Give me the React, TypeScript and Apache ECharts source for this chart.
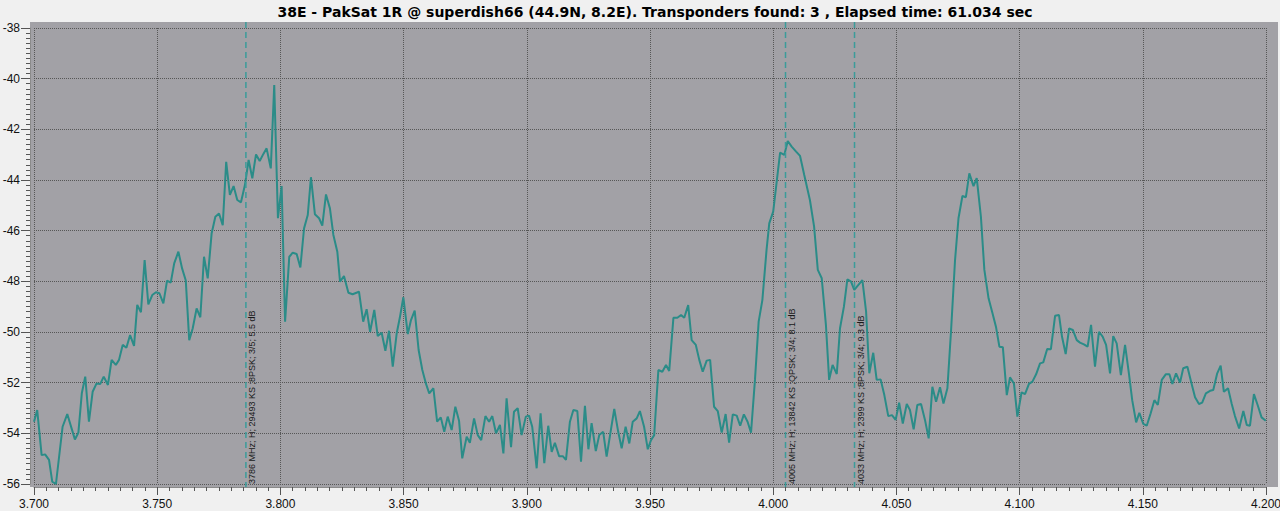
import React, { useEffect, useRef } from "react";
import * as echarts from "echarts";

const TITLE =
  "38E - PakSat 1R @ superdish66 (44.9N, 8.2E). Transponders found: 3 , Elapsed time: 61.034 sec";

// Frequency (GHz) of each sample
const freqGHz = [
  3.7, 3.7013, 3.7031, 3.7045, 3.7061, 3.7074, 3.7089, 3.7116, 3.7135, 3.7166,
  3.718, 3.7194, 3.7208, 3.7223, 3.7238, 3.7254, 3.7269, 3.7283, 3.73, 3.7315,
  3.7332, 3.7345, 3.736, 3.7375, 3.739, 3.7406, 3.7419, 3.7434, 3.7449, 3.7464,
  3.748, 3.7495, 3.7509, 3.7525, 3.754, 3.7555, 3.7569, 3.7586, 3.7601, 3.7616,
  3.763, 3.7644, 3.766, 3.7675, 3.769, 3.7705, 3.7721, 3.7736, 3.7751, 3.7766,
  3.778, 3.7795, 3.781, 3.7825, 3.784, 3.7856, 3.7871, 3.7886, 3.7901, 3.7916,
  3.7931, 3.7944, 3.7961, 3.7975, 3.799, 3.8005, 3.8019, 3.8036, 3.805, 3.8066,
  3.8081, 3.8096, 3.8111, 3.8124, 3.814, 3.8157, 3.817, 3.8185, 3.8201, 3.8215,
  3.8231, 3.8242, 3.8258, 3.8276, 3.8293, 3.8319, 3.8336, 3.835, 3.8364, 3.8381,
  3.8395, 3.8411, 3.8426, 3.8441, 3.8456, 3.8472, 3.8485, 3.8499, 3.8517, 3.853,
  3.8545, 3.8561, 3.8576, 3.8591, 3.8604, 3.8621, 3.8636, 3.8651, 3.8665, 3.8679,
  3.8695, 3.871, 3.8725, 3.8738, 3.8756, 3.8769, 3.8786, 3.8801, 3.8815, 3.8832,
  3.8847, 3.886, 3.8875, 3.8891, 3.8905, 3.8918, 3.8936, 3.8948, 3.8963, 3.8979,
  3.8996, 3.9009, 3.9022, 3.904, 3.9056, 3.9071, 3.9087, 3.9101, 3.9114, 3.9131,
  3.9146, 3.9159, 3.9175, 3.9189, 3.9205, 3.922, 3.9236, 3.925, 3.9263, 3.928,
  3.9294, 3.931, 3.9324, 3.934, 3.9355, 3.9371, 3.9385, 3.9401, 3.9416, 3.943,
  3.9446, 3.9459, 3.9476, 3.9491, 3.9504, 3.9517, 3.9534, 3.955, 3.9565, 3.9578,
  3.9595, 3.9611, 3.9626, 3.9639, 3.9655, 3.9669, 3.9686, 3.97, 3.9714, 3.973,
  3.9744, 3.976, 3.9775, 3.9791, 3.9807, 3.9821, 3.9836, 3.9852, 3.9866, 3.9881,
  3.9896, 3.991, 3.9926, 3.9941, 3.9956, 3.9973, 3.9984, 4.0, 4.0028, 4.0045,
  4.0059, 4.0075, 4.0093, 4.0109, 4.0126, 4.0149, 4.0166, 4.0181, 4.0197, 4.0214,
  4.0227, 4.0241, 4.0258, 4.0271, 4.0287, 4.0301, 4.0316, 4.0329, 4.0345, 4.0362,
  4.0377, 4.039, 4.0406, 4.042, 4.0436, 4.0451, 4.0467, 4.0482, 4.0497, 4.0511,
  4.0526, 4.0542, 4.0555, 4.057, 4.0585, 4.06, 4.0616, 4.0631, 4.0646, 4.0661,
  4.0677, 4.0691, 4.0707, 4.0722, 4.0738, 4.0752, 4.0768, 4.0782, 4.0796, 4.0813,
  4.0826, 4.0843, 4.0857, 4.0874, 4.089, 4.0904, 4.0918, 4.0932, 4.0948, 4.0961,
  4.0977, 4.0991, 4.1008, 4.1022, 4.1038, 4.1052, 4.1067, 4.1083, 4.1096, 4.1112,
  4.1127, 4.1144, 4.116, 4.1172, 4.1187, 4.1201, 4.1216, 4.1232, 4.1245, 4.1261,
  4.1276, 4.129, 4.1306, 4.1322, 4.1337, 4.1351, 4.1367, 4.138, 4.1394, 4.1411,
  4.1428, 4.1444, 4.1457, 4.1473, 4.1486, 4.1502, 4.1516, 4.1532, 4.1547, 4.1561,
  4.1577, 4.1593, 4.1608, 4.162, 4.1635, 4.1651, 4.1664, 4.1681, 4.1696, 4.1712,
  4.1728, 4.1741, 4.1756, 4.1773, 4.1786, 4.1802, 4.1816, 4.1829, 4.1846, 4.1861,
  4.1874, 4.1891, 4.1908, 4.1922, 4.1935, 4.1951, 4.1966, 4.1982, 4.1999,
];

// Measured level (dB) of each sample
const levelDb = [
  -53.54, -53.08, -54.86, -54.83, -55.05, -55.91, -56.0, -53.74, -53.24, -54.24,
  -53.98, -52.42, -51.76, -53.54, -52.36, -52.03, -52.05, -51.76, -52.09, -51.1,
  -51.3, -51.1, -50.51, -50.62, -50.12, -50.55, -48.93, -49.22, -47.16, -48.91,
  -48.54, -48.43, -48.47, -48.87, -47.97, -48.05, -47.29, -46.83, -47.49, -47.97,
  -50.32, -49.86, -49.07, -49.42, -47.03, -47.88, -46.1, -45.45, -45.32, -45.78,
  -43.28, -44.59, -44.24, -44.79, -44.88, -44.2, -43.21, -43.93, -42.99, -43.25,
  -42.97, -42.75, -43.54, -40.25, -45.51, -44.24, -49.59, -47.03, -46.87, -46.92,
  -47.45, -45.91, -45.38, -43.89, -45.35, -45.51, -45.8, -44.57, -45.12, -46.17,
  -46.83, -48.01, -47.79, -48.45, -48.51, -48.41, -49.59, -49.1, -49.99, -49.13,
  -50.16, -50.03, -50.74, -49.95, -51.37, -50.05, -49.42, -48.63, -50.08, -49.53,
  -49.16, -50.71, -51.5, -52.05, -52.42, -52.22, -53.54, -53.37, -53.94, -53.34,
  -53.87, -52.95, -53.5, -54.99, -54.13, -54.37, -53.41, -54.07, -54.27, -53.32,
  -53.54, -53.32, -54.0, -53.67, -54.79, -52.62, -54.55, -53.15, -53.01, -54.07,
  -53.34, -53.3, -53.74, -55.38, -53.21, -55.18, -53.7, -54.73, -54.37, -54.9,
  -54.9, -55.05, -53.54, -53.08, -53.12, -55.12, -52.91, -54.63, -53.6, -54.7,
  -54.07, -53.94, -54.92, -53.94, -53.04, -53.94, -54.59, -53.74, -54.4, -53.54,
  -53.41, -53.12, -53.74, -54.63, -54.27, -54.07, -51.5, -51.57, -51.3, -51.54,
  -49.44, -49.44, -49.33, -49.44, -48.94, -50.32, -50.51, -51.1, -51.57, -51.13,
  -51.1, -52.95, -53.12, -53.97, -53.24, -54.37, -53.25, -53.3, -53.7, -53.25,
  -53.54, -53.97, -51.89, -49.59, -48.74, -46.76, -45.71, -45.25, -42.92, -43.01,
  -42.46, -42.68, -42.88, -43.05, -43.8, -44.79, -45.84, -47.55, -47.88, -49.73,
  -51.89, -51.3, -51.66, -49.86, -49.0, -47.92, -48.01, -48.34, -48.15, -47.95,
  -49.2, -51.63, -50.82, -51.89, -51.87, -52.49, -53.32, -53.28, -53.47, -52.79,
  -53.61, -52.84, -53.08, -53.84, -52.88, -52.84, -53.47, -54.2, -52.16, -52.75,
  -52.18, -52.82, -52.22, -49.92, -47.16, -45.51, -44.63, -44.68, -43.74, -44.24,
  -43.93, -45.45, -47.55, -48.67, -49.26, -49.79, -50.58, -50.6, -52.49, -51.79,
  -52.03, -53.34, -52.38, -52.45, -52.05, -51.96, -51.67, -51.24, -51.2, -50.67,
  -50.68, -49.36, -49.33, -50.18, -50.87, -49.86, -49.92, -50.32, -50.42, -50.49,
  -50.58, -49.72, -51.37, -49.99, -50.18, -50.51, -51.63, -50.16, -50.45, -51.7,
  -50.51, -51.66, -52.69, -53.57, -53.19, -53.63, -53.7, -53.21, -52.69, -52.88,
  -51.89, -51.67, -51.67, -52.05, -51.63, -52.0, -51.43, -51.37, -51.96, -52.58,
  -52.84, -52.79, -52.42, -52.32, -52.29, -51.63, -51.33, -52.36, -52.22, -52.84,
  -53.32, -53.81, -53.12, -53.67, -53.7, -52.45, -52.88, -53.37, -53.5,
];

// Transponders found
const transponderFreqs = [3.786, 4.005, 4.033];
const transponderLabels = [
  "3786 MHz; H; 29493 KS ;8PSK; 3/5; 5.5 dB",
  "4005 MHz; H; 13842 KS ;QPSK; 3/4; 8.1 dB",
  "4033 MHz; H; 2399 KS ;8PSK; 3/4; 9.3 dB",
];

// Axis scales
const xMin = 3.7;
const xMax = 4.2;
const xInterval = 0.05;
const yMin = -56;
const yMax = -38;
const yInterval = 2;

const LINE_COLOR = "#2b8c88";
const MARKER_COLOR = "#3b9c9a";
const PLOT_BG = "#a2a1a6";
const PAGE_BG = "#f0f0f0";
const GRID_COLOR = "#575757";
const FONT = "'Liberation Sans', Arial, sans-serif";

export default function App() {
  const ref = useRef<HTMLDivElement>(null);

  useEffect(() => {
    if (!ref.current) return;
    const chart = echarts.init(ref.current, undefined, { renderer: "svg" });
    const data = freqGHz.map((f, i) => [f, levelDb[i]]);

    chart.setOption({
      animation: false,
      backgroundColor: PAGE_BG,
      grid: {
        left: 34,
        right: 14,
        top: 28,
        bottom: 27,
        containLabel: false,
        outerBoundsMode: "none",
      },
      graphic: {
        elements: [
          {
            id: "plotbg",
            type: "rect",
            z: -10,
            silent: true,
            shape: { x: 30, y: 22, width: 1248, height: 465 },
            style: { fill: PLOT_BG },
          },
          {
            id: "title",
            type: "text",
            x: 655,
            y: 12,
            silent: true,
            style: {
              text: TITLE,
              fill: "#000",
              font: "bold 14px 'DejaVu Sans', Verdana, sans-serif",
              align: "center",
              verticalAlign: "middle",
              textAlign: "center",
              textVerticalAlign: "middle",
            },
          },
        ],
      },
      xAxis: {
        type: "value",
        min: xMin,
        max: xMax,
        interval: xInterval,
        offset: 3,
        axisLine: { show: true, lineStyle: { color: "#8a8a8a", width: 1 } },
        axisTick: { show: true, length: 8, lineStyle: { color: "#555" } },
        minorTick: { show: true, splitNumber: 10, length: 4, lineStyle: { color: "#555" } },
        axisLabel: {
          margin: 11,
          color: "#111",
          fontSize: 12,
          fontFamily: FONT,
          formatter: (v: number) => v.toFixed(3),
          showMinLabel: true,
          showMaxLabel: true,
          hideOverlap: false,
        },
        splitLine: { show: true, lineStyle: { color: GRID_COLOR, type: [1, 1], width: 1 } },
      },
      yAxis: {
        type: "value",
        min: yMin,
        max: yMax,
        interval: yInterval,
        offset: 4,
        axisLine: { show: true, lineStyle: { color: "#8a8a8a", width: 1 } },
        axisTick: { show: true, length: 9, lineStyle: { color: "#555" } },
        minorTick: { show: true, splitNumber: 10, length: 4, lineStyle: { color: "#555" } },
        axisLabel: {
          margin: 10,
          color: "#111",
          fontSize: 12,
          fontFamily: FONT,
          showMinLabel: true,
          showMaxLabel: true,
        },
        splitLine: { show: true, lineStyle: { color: GRID_COLOR, type: [1, 1], width: 1 } },
      },
      series: [
        {
          type: "line",
          data,
          showSymbol: false,
          symbol: "none",
          lineStyle: { color: LINE_COLOR, width: 2 },
          z: 3,
        },
      ],
    });

    const markerEls: any[] = [];
    transponderFreqs.forEach((f, i) => {
      const px = chart.convertToPixel({ xAxisIndex: 0 }, f) as number;
      const pyBottom = chart.convertToPixel({ yAxisIndex: 0 }, yMin) as number;
      markerEls.push({
        id: "mk" + i,
        type: "line",
        silent: true,
        z: 5,
        shape: { x1: px, y1: 22, x2: px, y2: 487 },
        style: { stroke: MARKER_COLOR, lineWidth: 1.5, lineDash: [6, 4] },
      });
      markerEls.push({
        id: "mt" + i,
        type: "text",
        silent: true,
        z: 6,
        x: px + 2,
        y: pyBottom,
        rotation: Math.PI / 2,
        style: {
          text: transponderLabels[i],
          fill: "#1a1a1a",
          font: "9px 'Liberation Sans', Arial, sans-serif",
          align: "left",
          verticalAlign: "top",
          textAlign: "left",
          textVerticalAlign: "top",
        },
      });
    });
    chart.setOption({ graphic: { elements: markerEls } });

    return () => chart.dispose();
  }, []);

  return (
    <div
      ref={ref}
      style={{ position: "fixed", left: 0, top: 0, width: 1280, height: 511 }}
    />
  );
}
